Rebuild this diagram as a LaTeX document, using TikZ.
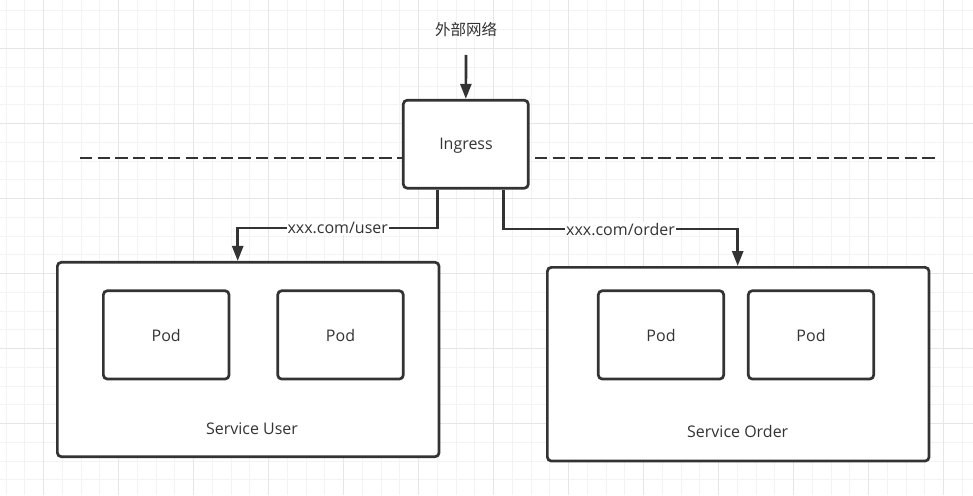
\documentclass[tikz,border=0pt]{standalone}
\usepackage{fontspec}
\setmainfont{Open Sans}
\newfontfamily\cjk{Noto Sans CJK SC}
\usetikzlibrary{arrows.meta,calc}
\definecolor{ink}{HTML}{333333}
\definecolor{gridminor}{HTML}{F3F3F3}
\definecolor{gridmajor}{HTML}{E6E6E6}
\tikzset{
  box/.style={draw=ink, line width=2.7pt, rounded corners=4pt, fill=white, inner sep=0pt},
  lbl/.style={text=ink, font=\fontsize{16}{18}\selectfont},
  tag/.style={fill=white, text=ink, inner sep=1pt, font=\fontsize{16}{18}\selectfont},
  conn/.style={draw=ink, line width=2.7pt, -{Triangle[length=15pt,width=11pt]}},
  sep/.style={draw=ink, line width=2.8pt, dash pattern=on 12.3pt off 5.3pt}
}
\begin{document}
\begin{tikzpicture}[x=1pt,y=-1pt]
\useasboundingbox (0,0) rectangle (973,495);
\fill[white] (0,0) rectangle (973,495);
% grid
\foreach \i in {0,...,52} {
  \draw[gridminor, line width=1pt] (6+\i*18.75,0) -- (6+\i*18.75,495);
}
\foreach \i in {0,...,26} {
  \draw[gridminor, line width=1pt] (0,11+\i*18.75) -- (973,11+\i*18.75);
}
\foreach \i in {0,...,12} {
  \draw[gridmajor, line width=1pt] (43.5+\i*75,0) -- (43.5+\i*75,495);
}
\foreach \i in {0,...,6} {
  \draw[gridmajor, line width=1pt] (0,48.5+\i*75) -- (973,48.5+\i*75);
}
% ingress and dashed boundary
\node[box, minimum width=125pt, minimum height=88pt] (ing) at (465.8,144.2) {};
\node[lbl] (ingt) at (466,145.5) {Ingress};
\coordinate (dl) at (80,158);
\coordinate (dr0) at (535,158);
\coordinate (dr) at (938,158);
\draw[sep] (dl) -- (dl -| ing.west);
\draw[sep] (dr0) -- (dr);
% external network
\node[text=ink, font=\cjk\fontsize{15.5}{17}\selectfont] (ext) at (466,30) {外部网络};
\coordinate (exts) at (466,55);
\draw[conn] (exts) -- (ing.north);
% services
\node[box, minimum width=381.7pt, minimum height=194.4pt] (su) at (248.2,359.5) {};
\node[box, minimum width=125.7pt, minimum height=88.3pt] (p1) at (166.2,334.9) {};
\node[box, minimum width=125.6pt, minimum height=88.3pt] (p2) at (340.5,334.9) {};
\node[lbl] at (166.2,335.5) {Pod};
\node[lbl] at (340.5,335.5) {Pod};
\node[lbl] (sut) at (252,428.5) {Service User};

\node[box, minimum width=381.7pt, minimum height=193.7pt] (so) at (738.2,364.2) {};
\node[box, minimum width=125.4pt, minimum height=88.3pt] (p3) at (661,334.9) {};
\node[box, minimum width=125.4pt, minimum height=88.3pt] (p4) at (811,334.9) {};
\node[lbl] at (661,335.5) {Pod};
\node[lbl] at (811,335.5) {Pod};
\node[lbl] (sot) at (737.7,431.5) {Service Order};
% routes
\draw[conn] ([xshift=-28.1pt]ing.south) -- ++(0,38.5) -| node[tag, pos=0.25] {xxx.com/user} ([xshift=-10.5pt]su.north);
\draw[conn] ([xshift=37.5pt]ing.south) -- ++(0,39.5) -| node[tag, pos=0.25] {xxx.com/order} ([xshift=-0.5pt]so.north);
\end{tikzpicture}
\end{document}
